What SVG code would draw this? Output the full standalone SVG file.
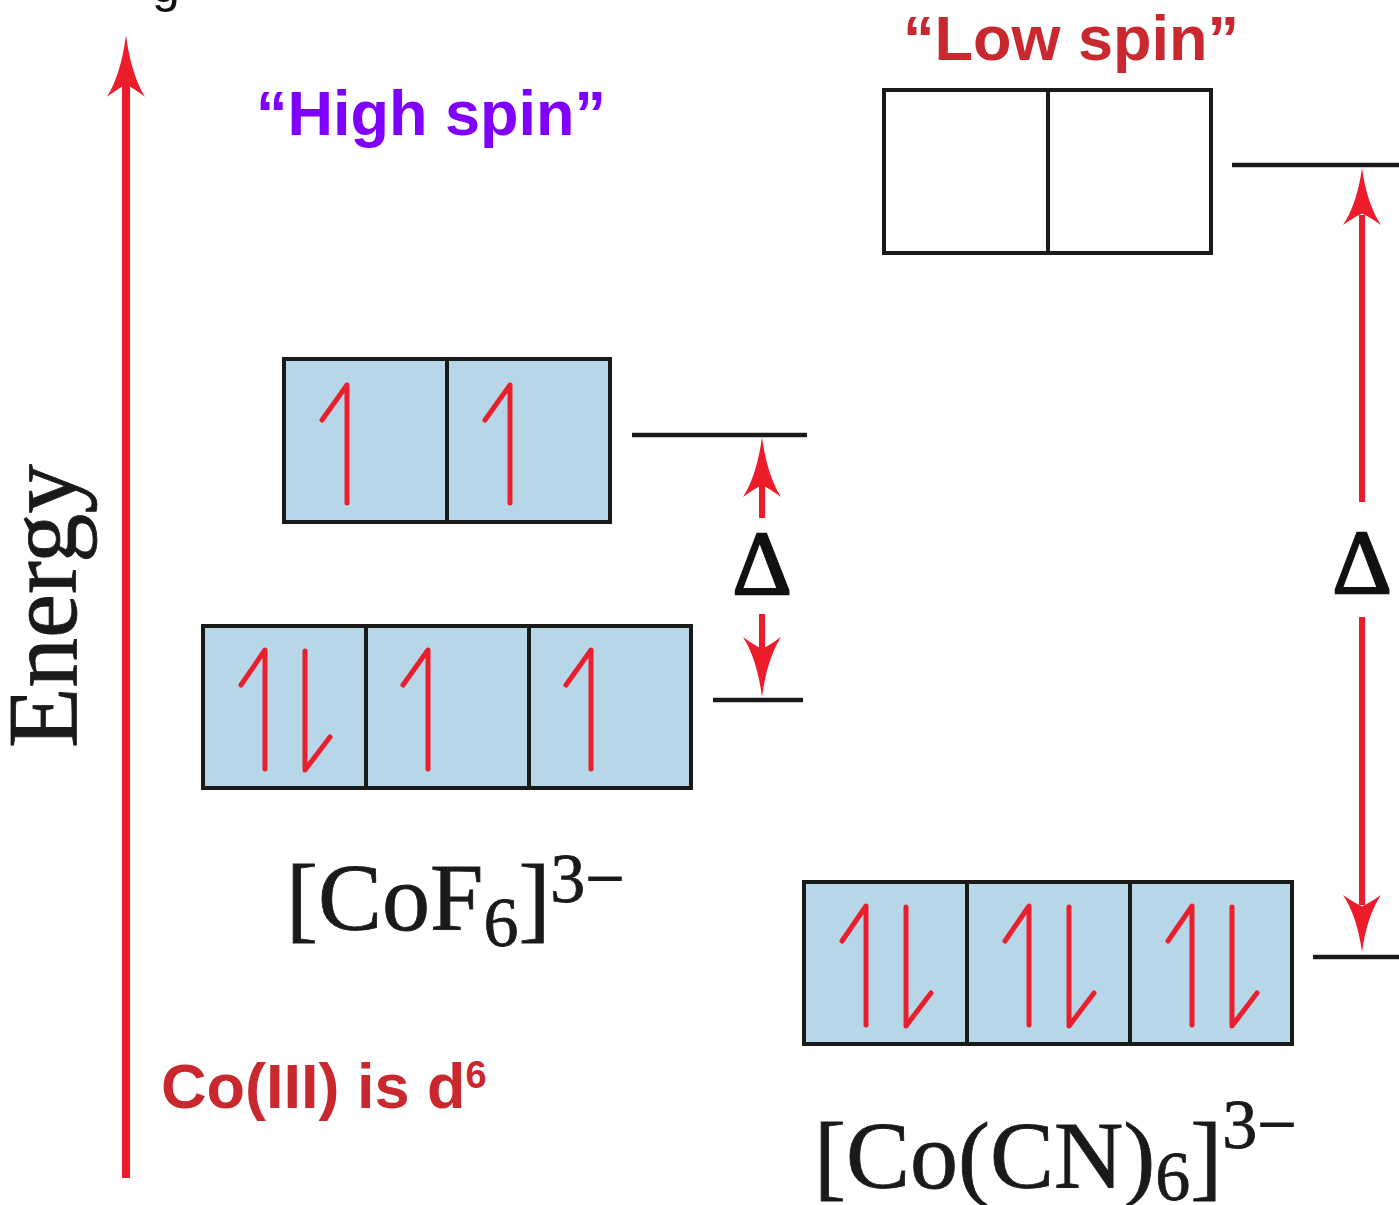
<svg xmlns="http://www.w3.org/2000/svg" width="1399" height="1205" viewBox="0 0 1399 1205">
<style>
.box{fill:#b7d6e7;stroke:#1a1a1a;stroke-width:4}
.empty{fill:#ffffff;stroke:#1a1a1a;stroke-width:4}
.div{stroke:#1a1a1a;stroke-width:4}
.e{fill:none;stroke:#e8202e;stroke-width:5;stroke-linecap:round;stroke-linejoin:round}
.lvl{stroke:#1a1a1a;stroke-width:4.5}
.stem{stroke:#ec1c2a;stroke-width:6}
.ah{fill:#ec1c2a}
.chem{font-family:"Liberation Serif","Times New Roman",serif;font-size:96px;fill:#1a1a1a;stroke:#1a1a1a;stroke-width:0.8}
.sub{font-size:70px}
.delta{font-family:"Liberation Serif","Times New Roman",serif;font-size:92px;fill:#111;stroke:#111;stroke-width:2.5;text-anchor:middle}
.lab{font-family:"Liberation Sans",Arial,sans-serif;font-weight:bold;font-size:63px}
</style>
<defs>
<path id="ah" d="M0,0 Q-5,38 -19,60 Q-8,52 0,48 Q8,52 19,60 Q5,38 0,0 Z"/>
</defs>

<text x="152" y="2" font-family="Liberation Sans, Arial, sans-serif" font-size="50" fill="#111">g</text>

<g id="energy-axis">
<line x1="126" y1="1178" x2="126" y2="80" stroke="#ec1c2a" stroke-width="8"/>
<use href="#ah" class="ah" transform="translate(126,35) scale(1,1.03)"/>
<text transform="translate(76,748) rotate(-90)" font-family="Liberation Serif, Times New Roman, serif" font-size="99" fill="#1a1a1a" stroke="#1a1a1a" stroke-width="0.8">Energy</text>
</g>

<g id="label-high-spin"><text class="lab" x="431" y="135" text-anchor="middle" fill="#8000ff">“High spin”</text></g>
<g id="label-low-spin"><text class="lab" x="1071" y="60" text-anchor="middle" fill="#c9282f">“Low spin”</text></g>
<g id="label-d6"><text class="lab" x="161" y="1108" fill="#c9282f">Co(III) is d<tspan font-size="38" dy="-20">6</tspan></text></g>

<g id="hs-eg">
<rect class="box" x="284" y="359" width="326" height="163"/>
<line class="div" x1="447" y1="359" x2="447" y2="522"/>
<path class="e" d="M347,503 V385 L322,420"/>
<path class="e" d="M510,503 V385 L485,420"/>
</g>

<g id="hs-t2g">
<rect class="box" x="203" y="626" width="488" height="162"/>
<line class="div" x1="366" y1="626" x2="366" y2="788"/>
<line class="div" x1="529" y1="626" x2="529" y2="788"/>
<path class="e" d="M265,769 V650 L241,685"/>
<path class="e" d="M305,651 V770 L330,737"/>
<path class="e" d="M428,769 V650 L403,685"/>
<path class="e" d="M591,769 V650 L566,685"/>
</g>

<g id="ls-eg">
<rect class="empty" x="884" y="90" width="327" height="163"/>
<line class="div" x1="1048" y1="90" x2="1048" y2="253"/>
</g>

<g id="ls-t2g">
<rect class="box" x="804" y="882" width="488" height="162"/>
<line class="div" x1="967" y1="882" x2="967" y2="1044"/>
<line class="div" x1="1130" y1="882" x2="1130" y2="1044"/>
<path class="e" d="M866,1025 V906 L842,941"/>
<path class="e" d="M906,907 V1026 L931,993"/>
<path class="e" d="M1029,1025 V906 L1005,941"/>
<path class="e" d="M1069,907 V1026 L1094,993"/>
<path class="e" d="M1192,1025 V906 L1168,941"/>
<path class="e" d="M1232,907 V1026 L1257,993"/>
</g>

<g id="connectors">
<line class="lvl" x1="632" y1="435" x2="807" y2="435"/>
<line class="lvl" x1="713" y1="700" x2="803" y2="700"/>
<line class="lvl" x1="1232" y1="165" x2="1399" y2="165"/>
<line class="lvl" x1="1313" y1="957" x2="1399" y2="957"/>

<line class="stem" x1="762" y1="518" x2="762" y2="480"/>
<use href="#ah" class="ah" transform="translate(762,437)"/>
<line class="stem" x1="762" y1="614" x2="762" y2="655"/>
<use href="#ah" class="ah" transform="translate(762,697) rotate(180)"/>

<line class="stem" x1="1362" y1="502" x2="1362" y2="215"/>
<use href="#ah" class="ah" transform="translate(1362,168) scale(1,0.95)"/>
<line class="stem" x1="1362" y1="617" x2="1362" y2="905"/>
<use href="#ah" class="ah" transform="translate(1362,952) rotate(180) scale(1,0.95)"/>
</g>

<g id="delta-labels">
<text class="delta" x="762" y="594">Δ</text>
<text class="delta" x="1362" y="593">Δ</text>
</g>

<g id="formula-cof6">
<text class="chem" x="286" y="930">[CoF<tspan class="sub" dy="16">6</tspan><tspan dy="-16">]</tspan><tspan class="sub" dy="-28">3−</tspan></text>
</g>
<g id="formula-cocn6">
<text class="chem" x="814" y="1188">[Co(CN)<tspan class="sub" dy="12">6</tspan><tspan dy="-12">]</tspan><tspan class="sub" dy="-40">3−</tspan></text>
</g>
</svg>
